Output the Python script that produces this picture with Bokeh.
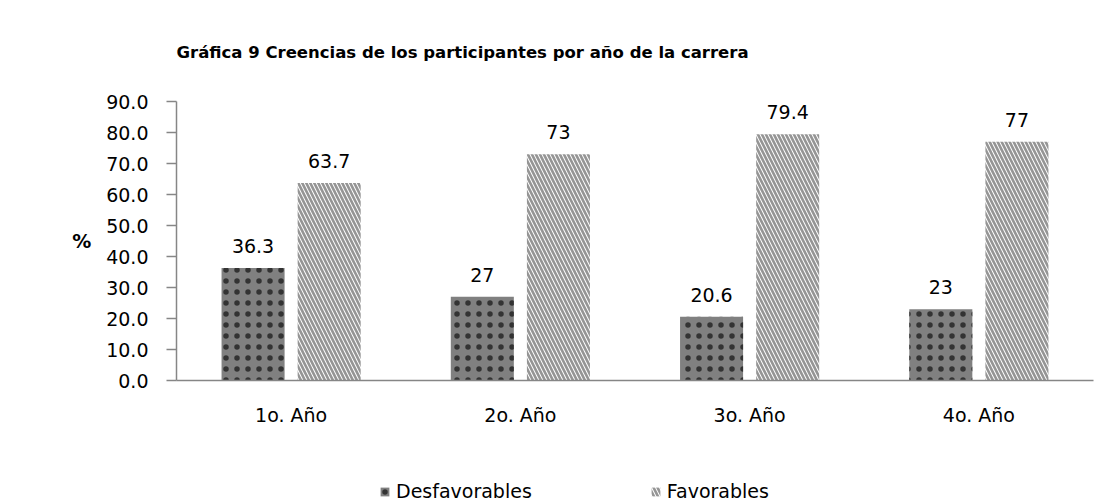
from bokeh.plotting import figure
from bokeh.layouts import column
from bokeh.models import (ColumnDataSource, FactorRange, Range1d, FixedTicker,
                          NumeralTickFormatter, LabelSet, Legend, LegendItem)
from bokeh.transform import dodge
from bokeh.core.properties import value
from bokeh.embed import file_html
from bokeh.resources import INLINE

# ---- data ----
years = ["1o. Año", "2o. Año", "3o. Año", "4o. Año"]
desfavorables = [36.3, 27, 20.6, 23]
favorables = [63.7, 73, 79.4, 77]
y_ticks = [0, 10, 20, 30, 40, 50, 60, 70, 80, 90]
title_text = "Gráfica 9 Creencias de los participantes por año de la carrera"
series_names = ["Desfavorables", "Favorables"]
y_label = "%"

FONT = "DejaVu Sans"

src = ColumnDataSource(dict(
    year=years,
    des=desfavorables,
    fav=favorables,
    des_lbl=[str(v) for v in desfavorables],
    fav_lbl=[str(v) for v in favorables],
))

bw = 0.275
off = 0.166
des_style = dict(fill_color="#808080", line_color=None,
                 hatch_pattern=".", hatch_color="#333333", hatch_scale=11, hatch_weight=1)
fav_style = dict(fill_color="white", line_color=None,
                 hatch_pattern="\\", hatch_color="#959595", hatch_scale=8, hatch_weight=2.6)

# ---------------- main chart ----------------
p = figure(width=1103, height=472, output_backend="svg", toolbar_location=None,
           x_range=FactorRange(factors=years, range_padding=0),
           y_range=Range1d(0, 90),
           min_border_left=176, min_border_right=10,
           min_border_top=101, min_border_bottom=92)

p.title.text = title_text
p.title.align = "left"
p.title.text_font = FONT
p.title.text_font_size = "16.5px"
p.title.text_font_style = "bold"
p.title.text_color = "black"
p.title.standoff = 80

p.outline_line_color = None
p.xgrid.grid_line_color = None
p.ygrid.grid_line_color = None
p.background_fill_color = "white"
p.border_fill_color = "white"

r1 = p.vbar(x=dodge("year", -off, range=p.x_range), top="des", width=bw, source=src, **des_style)
r2 = p.vbar(x=dodge("year", off, range=p.x_range), top="fav", width=bw, source=src, **fav_style)

for col, lbl in (("des", "des_lbl"), ("fav", "fav_lbl")):
    p.add_layout(LabelSet(x=dodge("year", -off if col == "des" else off, range=p.x_range),
                          y=col, text=lbl, source=src, y_offset=22,
                          text_align="center", text_baseline="middle",
                          text_font=value(FONT), text_font_size="19px", text_color="black"))

p.yaxis.ticker = FixedTicker(ticks=y_ticks)
p.yaxis.formatter = NumeralTickFormatter(format="0.0")
for ax in (p.xaxis, p.yaxis):
    ax.axis_line_color = "#868686"
    ax.axis_line_width = 1.5
    ax.major_tick_line_color = "#868686"
    ax.major_tick_line_width = 1.5
    ax.minor_tick_line_color = None
    ax.major_label_text_font = FONT
    ax.major_label_text_font_size = "19px"
    ax.major_label_text_color = "black"
p.yaxis.major_tick_out = 10
p.yaxis.major_tick_in = 0
p.yaxis.major_label_standoff = 18
p.xaxis.major_tick_out = 0
p.xaxis.major_tick_in = 0
p.xaxis.major_label_standoff = 23

p.yaxis.axis_label = y_label
p.yaxis.axis_label_text_font = FONT
p.yaxis.axis_label_text_font_size = "19px"
p.yaxis.axis_label_text_font_style = "bold"
p.yaxis.axis_label_text_color = "black"
p.yaxis.axis_label_standoff = 12
try:
    p.yaxis.axis_label_orientation = "horizontal"
except Exception:
    pass

# ---------------- legend strip (below the chart) ----------------
lg = figure(width=1103, height=32, output_backend="svg", toolbar_location=None,
            x_range=FactorRange(factors=years, range_padding=0),
            y_range=Range1d(1000, 1001),
            x_axis_location=None, y_axis_location=None,
            min_border=0, min_border_left=0, min_border_right=0,
            min_border_top=0, min_border_bottom=0)
lg.outline_line_color = None
lg.xgrid.grid_line_color = None
lg.ygrid.grid_line_color = None
lg.background_fill_color = "white"
lg.border_fill_color = "white"
# same series drawn here only to feed the legend swatches (outside the visible y-range)
l1 = lg.vbar(x=dodge("year", -off, range=lg.x_range), top="des", width=bw, source=src, **des_style)
l2 = lg.vbar(x=dodge("year", off, range=lg.x_range), top="fav", width=bw, source=src, **fav_style)

legend = Legend(items=[LegendItem(label=series_names[0], renderers=[l1]),
                       LegendItem(label=series_names[1], renderers=[l2])],
                location=(203, 2), orientation="horizontal",
                glyph_width=11, glyph_height=11, label_standoff=6, spacing=118,
                padding=0, margin=0, border_line_color=None, background_fill_alpha=0,
                label_text_font=FONT, label_text_font_size="19px", label_text_color="black")
lg.add_layout(legend)

layout = column(p, lg, spacing=0)
open("out.html", "w").write(file_html(layout, INLINE))
